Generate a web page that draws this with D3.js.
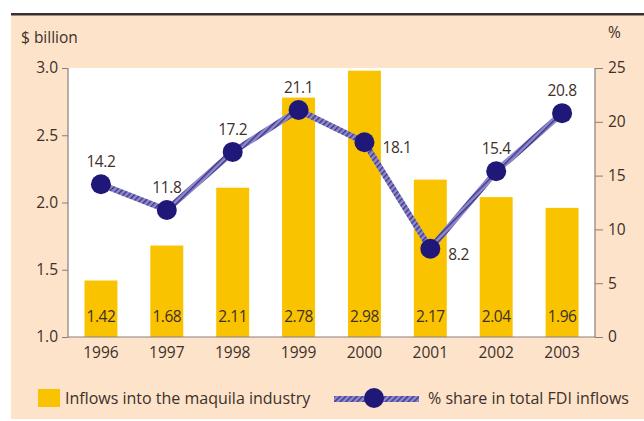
<!DOCTYPE html>
<html>
<head>
<meta charset="utf-8">
<script src="https://cdn.jsdelivr.net/npm/d3@7"></script>
<style>
  html, body { margin: 0; padding: 0; background: #fff; }
  svg { display: block; font-family: "Open Sans", "Noto Sans", sans-serif; }
</style>
</head>
<body>
<div id="chart"></div>
<script>
// data
var years = ["1996", "1997", "1998", "1999", "2000", "2001", "2002", "2003"];
var inflows = [1.42, 1.68, 2.11, 2.78, 2.98, 2.17, 2.04, 1.96];
var shares = [14.2, 11.8, 17.2, 21.1, 18.1, 8.2, 15.4, 20.8];
var leftTicks = [1.0, 1.5, 2.0, 2.5, 3.0];
var rightTicks = [0, 5, 10, 15, 20, 25];
// where the share label goes: above the dot or to its right
var sharePos = ["top", "top", "top", "top", "right", "right", "top", "top"];

var W = 644, H = 421;
var margin = { top: 68, right: 49, bottom: 84, left: 68 };
var width = W - margin.left - margin.right;
var height = H - margin.top - margin.bottom;

var textColor = "#3e3029";
var barColor = "#f9c300";
var dotColor = "#201878";
var fontSize = 15.5;

var root = d3.select("#chart").append("svg")
    .attr("width", W)
    .attr("height", H);

// peach panel and top rule
root.append("rect").attr("x", 11).attr("y", 14).attr("width", W - 11).attr("height", H - 16)
    .attr("fill", "#fce3ca");
root.append("rect").attr("x", 11).attr("y", 13).attr("width", W - 11).attr("height", 2.5)
    .attr("fill", "#3d2e2e");

// line texture
var defs = root.append("defs");
var pat = defs.append("pattern")
    .attr("id", "hatch")
    .attr("patternUnits", "userSpaceOnUse")
    .attr("width", 4).attr("height", 4)
    .attr("patternTransform", "rotate(45)");
pat.append("rect").attr("width", 4).attr("height", 4).attr("fill", "#8e8acb");
pat.append("rect").attr("width", 1.4).attr("height", 4).attr("fill", "#3b3488");

var svg = root.append("g")
    .attr("transform", "translate(" + margin.left + "," + margin.top + ")");

svg.append("rect").attr("width", width).attr("height", height).attr("fill", "#fff");

// scales
var x = d3.scaleBand().domain(years).range([0, width]).paddingInner(0.5).paddingOuter(0.25);
var yL = d3.scaleLinear().domain([1, 3]).range([height, 0]);
var yR = d3.scaleLinear().domain([0, 25]).range([height, 0]);

// bars
svg.selectAll(".bar")
    .data(inflows)
    .enter().append("rect")
    .attr("class", "bar")
    .attr("x", (d, i) => x(years[i]))
    .attr("y", d => yL(d))
    .attr("width", x.bandwidth())
    .attr("height", d => height - yL(d))
    .attr("fill", barColor);

svg.selectAll(".barlab")
    .data(inflows)
    .enter().append("text")
    .attr("x", (d, i) => x(years[i]) + x.bandwidth() / 2)
    .attr("y", height - 15)
    .attr("text-anchor", "middle")
    .attr("font-size", fontSize)
    .attr("letter-spacing", -0.5)
    .attr("fill", textColor)
    .text(d => d.toFixed(2));

// axes
var axisL = svg.append("g")
    .call(d3.axisLeft(yL).tickValues(leftTicks).tickSize(6).tickPadding(4).tickFormat(d3.format(".1f")));
var axisR = svg.append("g")
    .attr("transform", "translate(" + width + ",0)")
    .call(d3.axisRight(yR).tickValues(rightTicks).tickSize(8).tickPadding(5));
var axisB = svg.append("g")
    .attr("transform", "translate(0," + height + ")")
    .call(d3.axisBottom(x).tickSize(0).tickPadding(10));

[axisL, axisR, axisB].forEach(function (a) {
    a.select(".domain").attr("stroke", "#8a7f7a").attr("stroke-width", 1.2);
    a.selectAll(".tick line").attr("stroke", "#8a7f7a");
    a.selectAll("text").attr("fill", textColor).attr("font-size", fontSize)
        .attr("font-family", "\"Open Sans\", \"Noto Sans\", sans-serif");
});
axisL.select(".domain").attr("d", "M0," + height + "V0");
axisR.select(".domain").attr("d", "M0," + height + "V0");
axisB.select(".domain").attr("d", "M0,0H" + width);

// share line
var line = d3.line()
    .x((d, i) => x(years[i]) + x.bandwidth() / 2)
    .y(d => yR(d));

svg.append("path")
    .datum(shares)
    .attr("d", line)
    .attr("fill", "none")
    .attr("stroke", "url(#hatch)")
    .attr("stroke-width", 6);

svg.selectAll(".dot")
    .data(shares)
    .enter().append("circle")
    .attr("cx", (d, i) => x(years[i]) + x.bandwidth() / 2)
    .attr("cy", d => yR(d))
    .attr("r", 10)
    .attr("fill", dotColor);

svg.selectAll(".sharelab")
    .data(shares)
    .enter().append("text")
    .attr("x", (d, i) => x(years[i]) + x.bandwidth() / 2 + (sharePos[i] === "right" ? 18 : 0))
    .attr("y", d => yR(d))
    .attr("dy", (d, i) => sharePos[i] === "right" ? 11 : -17)
    .attr("text-anchor", (d, i) => sharePos[i] === "right" ? "start" : "middle")
    .attr("font-size", fontSize)
    .attr("letter-spacing", -0.4)
    .attr("fill", textColor)
    .text(d => d.toFixed(1));

// axis titles
root.append("text").attr("x", 21).attr("y", 43)
    .attr("font-size", fontSize).attr("fill", textColor).text("$ billion");
root.append("text").attr("x", 608).attr("y", 38)
    .attr("font-size", fontSize).attr("fill", textColor).text("%");

// legend
var leg = root.append("g");
leg.append("rect").attr("x", 38).attr("y", 389).attr("width", 22).attr("height", 18).attr("fill", barColor);
leg.append("text").attr("x", 65).attr("y", 404)
    .attr("font-size", 16).attr("fill", textColor).text("Inflows into the maquila industry");

leg.append("path")
    .attr("d", d3.line()([[334, 399], [419, 399]]))
    .attr("stroke", "url(#hatch)")
    .attr("stroke-width", 6);
leg.append("circle").attr("cx", 374).attr("cy", 398).attr("r", 10).attr("fill", dotColor);
leg.append("text").attr("x", 428).attr("y", 404)
    .attr("font-size", 16).attr("fill", textColor).text("% share in total FDI inflows");
</script>
</body>
</html>
